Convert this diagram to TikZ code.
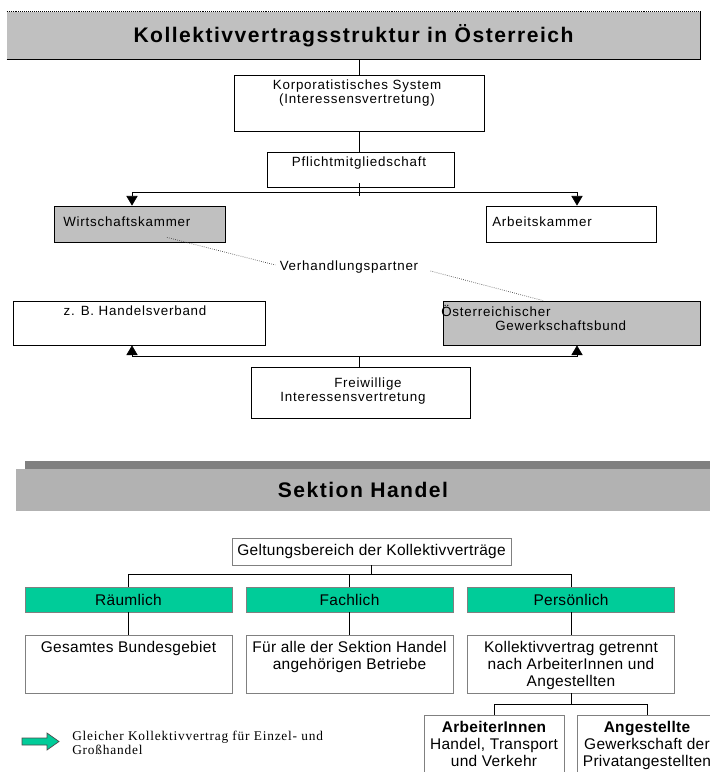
\documentclass[tikz,border=0pt]{standalone}
\usepackage{fontspec}
\setmainfont{Liberation Sans}
\newfontfamily\spacedsf[LetterSpace=6]{Liberation Sans}
\newfontfamily\headsf[LetterSpace=7]{Liberation Sans}
\newfontfamily\kvsf[LetterSpace=2]{Liberation Sans}
\newfontfamily\notesf[LetterSpace=6]{Liberation Serif}
\usepackage{tikz}
\usetikzlibrary{arrows.meta}
\usetikzlibrary{calc}

\definecolor{bargray}{RGB}{192,192,192}
\definecolor{bandgray}{RGB}{178,178,178}
\definecolor{shadowgray}{RGB}{128,128,128}
\definecolor{framegray}{RGB}{128,128,128}
\definecolor{kvgreen}{RGB}{0,204,153}

\begin{document}
\begin{tikzpicture}[x=0.025cm,y=-0.025cm,>/.tip={Triangle[length=2.4mm,width=2.8mm]},
	box/.style={draw,line width=0.6pt,inner sep=0pt},
	lbl/.style={inner sep=0pt,font={\spacedsf\fontsize{9.5}{10}\selectfont}},
	partnerline/.style={densely dotted,draw=black!70,line width=0.5pt},
	frame/.style={draw=framegray,line width=0.6pt,inner sep=0pt,font={\kvsf\fontsize{11}{12}\selectfont}},
	tealbox/.style={frame,fill=kvgreen,minimum width=5.175cm,minimum height=0.625cm},
	kvtext/.style={inner sep=0pt,align=center,font={\kvsf\fontsize{11}{12}\selectfont}}]
	\useasboundingbox (0,0) rectangle (710,772);
	\clip (0,0) rectangle (710,772);
	% Kollektivvertragsstruktur
	\node[fill=bargray,minimum width=17.325cm,minimum height=1.175cm,inner sep=0pt] (title) at (353.5,35.5) {\headsf\bfseries\fontsize{15}{18}\selectfont Kollektivvertragsstruktur in Österreich};
	\draw[densely dotted] (title.north west) -- (title.north east);
	\draw (title.south west) -- (title.south east) -- (title.north east);
	\node[box,minimum width=6.25cm,minimum height=1.4cm] (korp) at (359,103) {};
	\node[lbl,align=center] (korpText) at (357,93) {Korporatistisches System\\(Interessensvertretung)};
	\draw (korp.north |- title.south) -- (korp.north);
	\node[box,minimum width=4.675cm,minimum height=0.875cm] (pflicht) at (361,169.5) {};
	\node[lbl] (pflichtText) at (359,163) {Pflichtmitgliedschaft};
	\draw (korp.south) -- (korp.south |- pflicht.north);
	\draw ($(korp.south |- pflicht.south)+(0,-4)$) -- ++(0,13);
	\node[box,fill=bargray,minimum width=4.275cm,minimum height=0.9cm] (wirt) at (139.5,224) {};
	\node[lbl,anchor=west] (wirtText) at (63,222) {Wirtschaftskammer};
	\node[box,minimum width=4.25cm,minimum height=0.9cm] (arbeits) at (571,224) {};
	\node[lbl,anchor=west] (arbeitsText) at (492,222) {Arbeitskammer};
	\draw[<->] ($(wirt.north)+(-7.5,0)$) -- ++(0,-13) -| ($(arbeits.north)+(6,0)$);
	\node[box,minimum width=6.3cm,minimum height=1.1cm] (handels) at (139,323) {};
	\node[lbl] (handelsText) at (135,311) {z. B. Handelsverband};
	\node[box,fill=bargray,minimum width=6.425cm,minimum height=1.1cm] (ogb) at (571.5,323) {};
	\node[lbl,anchor=west,align=left] (ogbText) at (441,318) {Österreichischer\\\hspace*{1.35cm}Gewerkschaftsbund};
	\node[lbl] (partner) at (349,267) {Verhandlungspartner};
	\draw[partnerline] ($(wirt.south)+(27.5,-5)$) -- ($(partner.west)+(-4,-2)$);
	\draw[partnerline] ($(partner.east)+(12,4)$) -- ($(ogb.north)+(-28.5,0)$);
	\node[box,minimum width=5.475cm,minimum height=1.275cm] (freiw) at (360.5,392.5) {};
	\node[lbl,anchor=west,align=left] (freiwText) at (280,391.5) {\hspace*{1.35cm}Freiwillige\\Interessensvertretung};
	\draw[<->] ($(handels.south)+(-7,0)$) -- ++(0,11) -| ($(ogb.south)+(5.5,0)$);
	\draw (freiw.north -| korp.south) -- ++(0,-11);
	% Sektion Handel
	\fill[shadowgray] (25,461) rectangle (710,469);
	\node[fill=bandgray,minimum width=17.35cm,minimum height=1.05cm,inner sep=0pt] (sektion) at (363,490) {\headsf\bfseries\fontsize{15}{18}\selectfont Sektion Handel};
	\node[frame,minimum width=6.975cm,minimum height=0.675cm] (geltung) at (371.5,551.5) {Geltungsbereich der Kollektivverträge};
	\node[tealbox] (raum) at (128.5,599.5) {Räumlich};
	\node[tealbox] (fach) at (349.5,599.5) {Fachlich};
	\node[tealbox] (pers) at (571,599.5) {Persönlich};
	\node[frame,minimum width=5.175cm,minimum height=1.45cm] (raumB) at (128.5,664) {};
	\node[kvtext,anchor=north] (raumBText) at (128.5,641) {Gesamtes Bundesgebiet};
	\node[frame,minimum width=5.175cm,minimum height=1.45cm] (fachB) at (349.5,664) {};
	\node[kvtext,anchor=north] (fachBText) at (349.5,641) {Für alle der Sektion Handel\\angehörigen Betriebe};
	\node[frame,minimum width=5.175cm,minimum height=1.45cm] (persB) at (571,664) {};
	\node[kvtext,anchor=north] (persBText) at (571,641) {Kollektivvertrag getrennt\\nach ArbeiterInnen und\\Angestellten};
	\draw (geltung.south) -- ++(0,10);
	\draw (raum.north) -- ++(0,-12) -| (pers.north);
	\draw (fach.north) -- ++(0,-12);
	\draw (raum.south) -- (raumB.north);
	\draw (fach.south) -- (fachB.north);
	\draw (pers.south) -- (persB.north);
	\node[frame,minimum width=3.5cm,minimum height=1.75cm] (arbeiter) at (494,750) {};
	\node[kvtext,anchor=north] (arbeiterText) at (494,721) {{\bfseries ArbeiterInnen}\\Handel, Transport\\und Verkehr};
	\node[frame,minimum width=3.5cm,minimum height=1.75cm] (angest) at (647,750) {};
	\node[kvtext,anchor=north] (angestText) at (647,721) {{\bfseries Angestellte}\\Gewerkschaft der\\Privatangestellten};
	\draw (persB.south) -- ++(0,12);
	\draw (arbeiter.north) -- ++(0,-10) -| (angest.north);
	% Hinweis
	\filldraw[fill=kvgreen,draw=black!70,line width=0.5pt] (22,738) -- (47,738) -- (47,733) -- (59,741.5) -- (47,750) -- (47,745) -- (22,745) -- cycle;
	\node[anchor=west,align=left,inner sep=0pt,font={\notesf\fontsize{9.5}{10}\selectfont}] (note) at (72,743) {Gleicher Kollektivvertrag für Einzel- und\\Großhandel};
\end{tikzpicture}
\end{document}
